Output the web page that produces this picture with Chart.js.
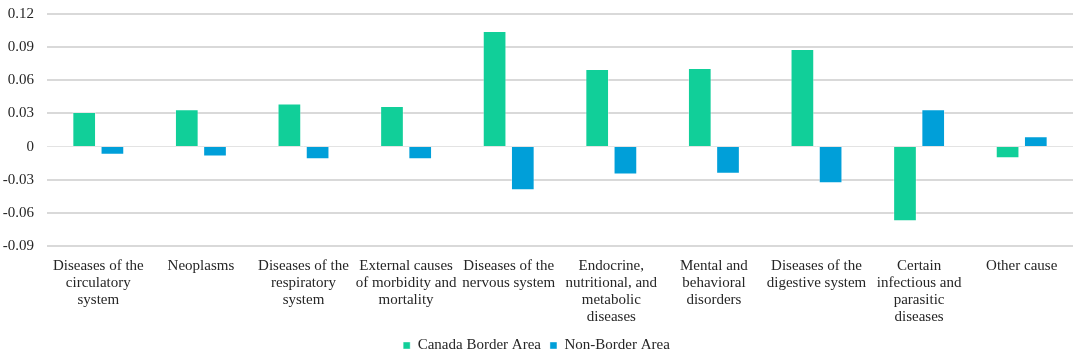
<!DOCTYPE html>
<html>
<head>
<meta charset="utf-8">
<script src="https://cdn.jsdelivr.net/npm/chart.js@4"></script>
<style>
  html, body { margin:0; padding:0; background:#fff; }
  #wrap { width:1080px; height:354px; }
</style>
</head>
<body>
<div id="wrap"><canvas id="chart"></canvas></div>
<script>
const categories=[
  ['Diseases of the','circulatory','system'],
  ['Neoplasms'],
  ['Diseases of the','respiratory','system'],
  ['External causes','of morbidity and','mortality'],
  ['Diseases of the','nervous system'],
  ['Endocrine,','nutritional, and','metabolic','diseases'],
  ['Mental and','behavioral','disorders'],
  ['Diseases of the','digestive system'],
  ['Certain','infectious and','parasitic','diseases'],
  ['Other cause']
];
const borderArea=[0.0314, 0.0337, 0.039, 0.0368, 0.1045, 0.0702, 0.0711, 0.0883, -0.0675, -0.0106];
const nonBorderArea=[-0.0075, -0.009, -0.0115, -0.0115, -0.0395, -0.0253, -0.0247, -0.0332, 0.0337, 0.0093];
const yTicks=[-0.09, -0.06, -0.03, 0, 0.03, 0.06, 0.09, 0.12];

Chart.defaults.font.family="'Liberation Serif', 'Times New Roman', serif";
Chart.defaults.font.size=15;
Chart.defaults.color='#262626';
const font={family:"'Liberation Serif', 'Times New Roman', serif", size:15, lineHeight:1.15};

new Chart(document.querySelector('#chart'), {
  type:'bar',
  data:{
    labels:categories,
    datasets:[{
      label:'Canada Border Area',
      backgroundColor:'#11cf99',
      borderColor:'rgba(255,255,255,0.4)',
      borderWidth:1,
      data:borderArea,
      categoryPercentage:0.55,
      barPercentage:0.84
    },{
      label:'Non-Border Area',
      backgroundColor:'#009fd9',
      borderColor:'rgba(255,255,255,0.4)',
      borderWidth:1,
      data:nonBorderArea,
      categoryPercentage:0.55,
      barPercentage:0.84
    }]
  },
  options:{
    responsive:true,
    maintainAspectRatio:false,
    animation:false,
    layout:{padding:{top:0, right:7, left:0, bottom:-9}},
    plugins:{
      tooltip:{enabled:false},
      legend:{
        position:'bottom',
        labels:{boxWidth:7, boxHeight:7, font:font, color:'#262626', padding:9}
      }
    },
    scales:{
      x:{
        grid:{display:false},
        border:{display:false},
        ticks:{font:font, color:'#262626', maxRotation:0, minRotation:0, autoSkip:false, padding:3}
      },
      y:{
        min:yTicks[0],
        max:yTicks[yTicks.length-1],
        afterBuildTicks:(axis)=>{ axis.ticks=yTicks.map((v)=>({value:v})); },
        afterFit:(axis)=>{ axis.width=47; axis.paddingTop=14; axis.paddingBottom=9; },
        border:{display:false},
        grid:{
          drawTicks:false,
          color:(ctx)=>ctx.tick && ctx.tick.value===0 ? '#e3e3e3' : '#d9d9d9',
          lineWidth:(ctx)=>ctx.tick && ctx.tick.value===0 ? 1 : 2
        },
        ticks:{
          font:font, color:'#262626', padding:13,
          callback:(v)=>String(parseFloat(Number(v).toFixed(2)))
        }
      }
    }
  }
});
</script>
</body>
</html>
